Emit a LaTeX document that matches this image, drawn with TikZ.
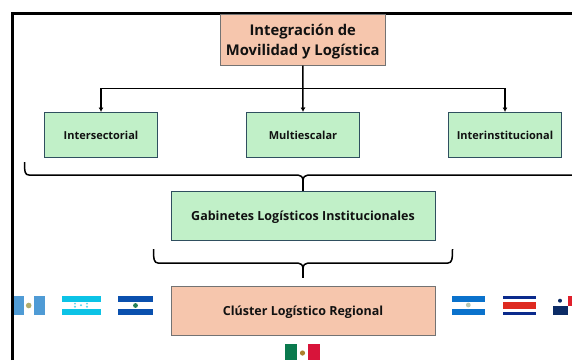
\documentclass[tikz,border=0pt]{standalone}
\usepackage{fontspec}
\setmainfont{Open Sans}
\usetikzlibrary{arrows.meta}
\definecolor{peach}{HTML}{F6C6AD}
\definecolor{mint}{HTML}{C1F0C8}
\definecolor{edge}{HTML}{2F4F5F}
\definecolor{ink}{HTML}{111111}
\newcommand{\nudged}[1]{\raisebox{-4.6pt}[0pt][0pt]{#1}}
\tikzset{
  x=1pt,y=-1pt,
  boxbase/.style={draw=edge,line width=1pt,inner sep=0pt,align=center,text=ink},
  peachbox/.style={boxbase,fill=peach,draw=black!55},
  mintbox/.style={boxbase,fill=mint},
  link/.style={draw=black,line width=1.5pt},
  arrowlink/.style={link,-{Latex[length=4.5pt,width=5pt]}},
  brace/.style={draw=black,line width=1.5pt,line join=round},
  smalltext/.style={font=\bfseries\fontsize{11}{13}\selectfont},
  midtext/.style={font=\bfseries\fontsize{12.5}{15}\selectfont}
}
\definecolor{gtblue}{HTML}{4F9BD5}
\definecolor{hnblue}{HTML}{0CC3E6}
\definecolor{svblue}{HTML}{0A50AE}
\definecolor{niblue}{HTML}{0A72CC}
\definecolor{crblue}{HTML}{0A2A8C}
\definecolor{crred}{HTML}{DE2A20}
\definecolor{panavy}{HTML}{0C2C66}
\definecolor{pared}{HTML}{E0202C}
\definecolor{mxgreen}{HTML}{0A7A4E}
\definecolor{mxred}{HTML}{D8143A}
\begin{document}
\begin{tikzpicture}
\useasboundingbox (0,0) rectangle (572,360);
\fill[white] (0,0) rectangle (572,360);
% frame
\coordinate (fa) at (12.5,360);
\coordinate (fb) at (12.5,13.5);
\coordinate (fc) at (572,13.5);
\draw[black,line width=2.5pt,line join=miter] (fa) -- (fb) -- (fc);
% boxes
\node[peachbox,minimum width=165pt,minimum height=51pt] (top) at (302.75,39.5) {};
\node[font=\bfseries\fontsize{14.8}{19.5}\selectfont,align=center,text=ink,inner sep=0pt] (toplabel) at (302.75,41.5) {Integración de\\Movilidad y Logística};
\node[mintbox,smalltext,minimum width=113pt,minimum height=44.5pt] (inter) at (101,134.75) {\nudged{Intersectorial}};
\node[mintbox,smalltext,minimum width=113pt,minimum height=44.5pt] (multi) at (303,134.75) {\nudged{Multiescalar}};
\node[mintbox,smalltext,minimum width=113pt,minimum height=44.5pt] (insti) at (505,134.75) {\nudged{Interinstitucional}};
\node[mintbox,midtext,minimum width=264pt,minimum height=49pt] (gab) at (303,216) {\nudged{Gabinetes Logísticos Institucionales}};
\node[peachbox,midtext,minimum width=264pt,minimum height=49pt] (clu) at (303,310.5) {\nudged{Clúster Logístico Regional}};
% connectors
\coordinate (bus) at (303,88.5);
\draw[arrowlink] (top.south) -- (multi.north);
\draw[arrowlink] (bus) -| (inter.north);
\draw[arrowlink] (bus) -| (insti.north);
% brace 1
\coordinate (b1l) at (24.5,162);
\coordinate (b1r) at (572,175);
\draw[brace] (b1l) .. controls (24.5,172) and (25,175) .. (29,175) -- (298,175) .. controls (301,175) and (303,177) .. (303,181);
\draw[brace] (b1r) -- (308,175) .. controls (305,175) and (303,177) .. (303,181);
\draw[link] (303,180) -- (gab.north);
% brace 2
\coordinate (b2l) at (153.5,249);
\coordinate (b2r) at (452.5,249);
\draw[brace] (b2l) .. controls (153.5,259) and (154,263) .. (158,263) -- (298,263) .. controls (301,263) and (303,265) .. (303,269);
\draw[brace] (b2r) .. controls (452.5,259) and (452,263) .. (448,263) -- (308,263) .. controls (305,263) and (303,265) .. (303,269);
\coordinate (b2t) at (303,278);
\draw[link] (303,268) -- (b2t);
% flags
% Guatemala
\fill[gtblue] (14,296) rectangle (44.5,315);
\fill[white] (23.5,296) rectangle (34,315);
\fill[olive!55!gray!70] (28.7,305.5) circle (2.8pt);
% Honduras
\fill[hnblue] (62,296) rectangle (100.5,315);
\fill[white] (62,302) rectangle (100.5,308.5);
\foreach \dx/\dy in {-6/-1.6,-6/1.6,6/-1.6,6/1.6,0/0}{\fill[hnblue!70] (81+\dx,305.2+\dy) circle (1.1pt);}
% El Salvador
\fill[svblue] (118,296) rectangle (153,315);
\fill[white] (118,302) rectangle (153,308.5);
\fill[teal!70!olive] (135.5,305.5) circle (2.4pt);
% Nicaragua
\fill[niblue] (452,296) rectangle (484.5,315);
\fill[white] (452,302) rectangle (484.5,308.5);
\fill[olive!35!teal!40] (468.3,305) circle (2.4pt);
% Costa Rica
\fill[white] (502.5,296) rectangle (535.5,315);
\fill[crblue] (502.5,296) rectangle (535.5,299);
\fill[crblue] (502.5,311.5) rectangle (535.5,315);
\fill[crred] (502.5,302) rectangle (535.5,308.5);
% Panama
\fill[white] (552.5,296) rectangle (572,315);
\fill[pared] (567.5,296) rectangle (572,305.5);
\fill[panavy] (552.5,305.5) rectangle (567.5,315);
\fill[panavy] (560,300.7) circle (2pt);
% Mexico
\fill[white] (285,344) rectangle (320,360);
\fill[mxgreen] (285,344) rectangle (297,360);
\fill[mxred] (308,344) rectangle (320,360);
\fill[brown!70!olive] (302.5,353) circle (2.6pt);
\end{tikzpicture}
\end{document}
